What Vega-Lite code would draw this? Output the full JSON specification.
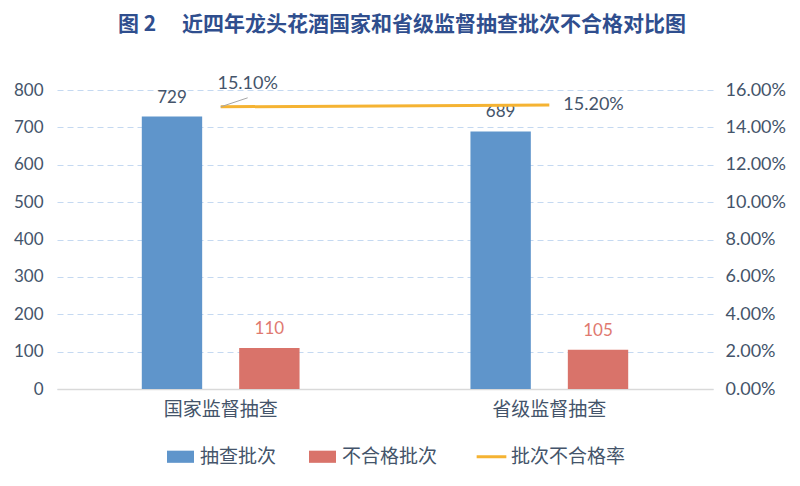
{
  "$schema": "https://vega.github.io/schema/vega-lite/v6.json",
  "width": 656,
  "height": 299,
  "autosize": {"type": "none"},
  "padding": {"left": 57, "top": 90, "right": 87, "bottom": 97},
  "background": "white",
  "title": {
    "text": "图 2　 近四年龙头花酒国家和省级监督抽查批次不合格对比图",
    "font": "Noto Sans CJK SC",
    "fontSize": 21,
    "fontWeight": "bold",
    "color": "#2F4E8E",
    "anchor": "middle",
    "dx": 17,
    "offset": 40
  },
  "config": {
    "view": {"stroke": null},
    "font": "Lato, Noto Sans CJK SC"
  },
  "datasets": {
    "bars": [
      {"group": "国家监督抽查", "series": "抽查批次", "count": 729},
      {"group": "国家监督抽查", "series": "不合格批次", "count": 110},
      {"group": "省级监督抽查", "series": "抽查批次", "count": 689},
      {"group": "省级监督抽查", "series": "不合格批次", "count": 105}
    ],
    "rates": [
      {"group": "国家监督抽查", "rate": 0.151},
      {"group": "省级监督抽查", "rate": 0.152}
    ]
  },
  "layer": [
    {
      "data": {"name": "bars"},
      "layer": [
        {
          "mark": {"type": "bar"},
          "encoding": {
            "x": {
              "field": "group", "type": "nominal", "sort": null,
              "scale": {"paddingInner": 0.52, "paddingOuter": 0.258},
              "axis": {
                "title": null, "labelAngle": 0, "ticks": false,
                "domain": true, "domainColor": "#D9D9D9", "domainWidth": 1.5,
                "labelFont": "Noto Sans CJK SC", "labelFontSize": 19,
                "labelColor": "#44546A", "labelPadding": 11
              }
            },
            "xOffset": {
              "field": "series", "type": "nominal",
              "scale": {"domain": ["抽查批次", "不合格批次"], "paddingInner": 0.38, "paddingOuter": 0}
            },
            "y": {
              "field": "count", "type": "quantitative",
              "scale": {"domain": [0, 800]},
              "axis": {
                "title": null, "values": [0, 100, 200, 300, 400, 500, 600, 700, 800],
                "tickCount": 9,
                "domain": false, "ticks": false, "labelOverlap": false,
                "labelFontSize": 17, "labelColor": "#44546A", "labelPadding": 14,
                "grid": true, "gridColor": "#C5D9F1", "gridDash": [6, 4], "gridWidth": 1
              }
            },
            "color": {
              "field": "series", "type": "nominal",
              "scale": {
                "domain": ["抽查批次", "不合格批次", "批次不合格率"],
                "range": ["#5F95CB", "#D9736A", "#F5B332"]
              },
              "legend": {
                "orient": "none", "legendX": 114, "legendY": 357,
                "direction": "horizontal", "title": null,
                "labelFont": "Noto Sans CJK SC", "labelFontSize": 19, "labelColor": "#44546A",
                "labelOffset": 10, "columnPadding": 32, "symbolSize": 729,
                "encode": {
                  "symbols": {
                    "update": {
                      "shape": {"signal": "datum.value === '批次不合格率' ? 'M-1.1,0H1.1' : 'M-1,-0.45H1V0.45H-1Z'"},
                      "fill": {"signal": "datum.value === '批次不合格率' ? 'transparent' : scale('color', datum.value)"},
                      "stroke": {"signal": "scale('color', datum.value)"},
                      "strokeWidth": {"signal": "datum.value === '批次不合格率' ? 3 : 0"},
                      "opacity": {"value": 1},
                      "fillOpacity": {"value": 1}
                    }
                  }
                }
              }
            }
          }
        },
        {
          "mark": {"type": "text", "dy": -19, "fontSize": 17, "baseline": "middle"},
          "encoding": {
            "x": {"field": "group", "type": "nominal", "sort": null},
            "xOffset": {"field": "series", "type": "nominal"},
            "y": {"field": "count", "type": "quantitative"},
            "text": {"field": "count", "type": "quantitative"},
            "color": {
              "condition": {"test": "datum.series === '不合格批次'", "value": "#E0796F"},
              "value": "#44546A"
            }
          }
        }
      ]
    },
    {
      "data": {"name": "rates"},
      "layer": [
        {
          "mark": {"type": "line", "strokeWidth": 3},
          "encoding": {
            "x": {"field": "group", "type": "nominal", "sort": null},
            "y": {
              "field": "rate", "type": "quantitative",
              "scale": {"domain": [0, 0.16]},
              "axis": {
                "orient": "right", "title": null,
                "values": [0, 0.02, 0.04, 0.06, 0.08, 0.1, 0.12, 0.14, 0.16],
                "tickCount": 9,
                "format": ".2%", "domain": false, "ticks": false, "grid": false,
                "labelOverlap": false,
                "labelFontSize": 18, "labelColor": "#44546A", "labelPadding": 12
              }
            },
            "color": {"datum": "批次不合格率"}
          }
        },
        {
          "transform": [{"filter": "datum.group === '国家监督抽查'"}],
          "mark": {"type": "rule", "color": "#A6A6A6", "strokeWidth": 1, "x2Offset": 27, "y2Offset": -9},
          "encoding": {
            "x": {"field": "group", "type": "nominal", "bandPosition": 0.5},
            "x2": {"field": "group", "bandPosition": 0.5},
            "y": {"field": "rate", "type": "quantitative"},
            "y2": {"field": "rate"}
          }
        },
        {
          "transform": [{"filter": "datum.group === '国家监督抽查'"}],
          "mark": {"type": "text", "dx": 27, "dy": -23, "fontSize": 18, "baseline": "middle", "align": "center", "color": "#44546A"},
          "encoding": {
            "x": {"field": "group", "type": "nominal"},
            "y": {"field": "rate", "type": "quantitative"},
            "text": {"field": "rate", "type": "quantitative", "format": ".2%"}
          }
        },
        {
          "transform": [{"filter": "datum.group === '省级监督抽查'"}],
          "mark": {"type": "text", "dx": 14, "dy": 0, "fontSize": 18, "baseline": "middle", "align": "left", "color": "#44546A"},
          "encoding": {
            "x": {"field": "group", "type": "nominal"},
            "y": {"field": "rate", "type": "quantitative"},
            "text": {"field": "rate", "type": "quantitative", "format": ".2%"}
          }
        }
      ]
    }
  ],
  "resolve": {"scale": {"y": "independent"}}
}
